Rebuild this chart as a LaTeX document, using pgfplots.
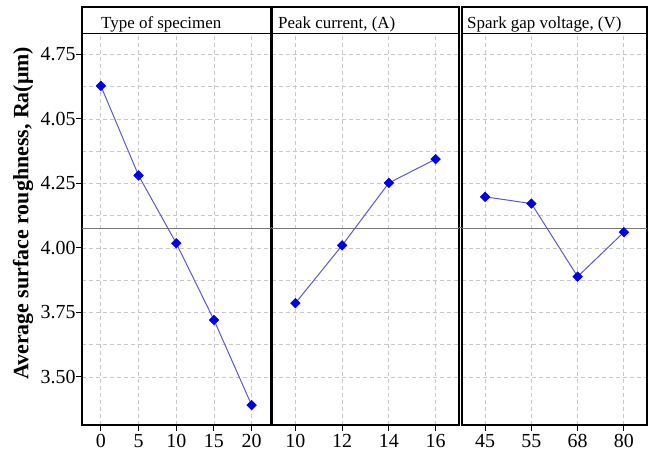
\documentclass[border=0pt]{standalone}
\usepackage{fontspec}
\setmainfont{Liberation Serif}
\usepackage{pgfplots}
\pgfplotsset{compat=1.18}
\definecolor{lineblue}{RGB}{90,90,200}
\definecolor{markblue}{RGB}{0,0,235}
\definecolor{gridgray}{RGB}{200,200,200}
\definecolor{meangray}{RGB}{120,120,120}

\pgfplotsset{
  panel/.style={
    scale only axis, anchor=south west, height=391.5bp,
    ymin=3.314, ymax=4.831,
    ytick={3.5,3.75,4,4.25,4.5,4.75},
    minor y tick num=1,
    grid=both,
    major grid style={gridgray, dash pattern=on 4bp off 3bp, line width=0.8bp},
    minor grid style={gridgray, dash pattern=on 4bp off 3bp, line width=0.8bp},
    axis line style={line width=1.5bp},
    tick style={black, line width=1bp},
    major tick length=6bp, minor tick length=0pt,
    tick align=outside,
    xtick pos=bottom, ytick pos=left,
    ticklabel style={font=\fontsize{20}{24}\selectfont},
    yticklabel style={xshift=3bp},
    /pgf/number format/assume math mode=true,
    clip=false,
  },
  data/.style={lineblue, line width=1bp, mark=square*, mark size=3.4bp,
    mark options={draw=markblue, fill=markblue, line width=0.5bp, rotate=45}},
  meanline/.style={meangray, line width=1.2bp, forget plot},
}

\begin{document}
\begin{tikzpicture}[x=1bp,y=1bp]
\path[use as bounding box] (0,0) rectangle (651,456);

% Panel 1
\begin{axis}[panel, at={(82bp,31bp)}, width=188.5bp,
  xmin=-2.5, xmax=22.5, xtick={0,5,10,15,20},
  yticklabels={3.50,3.75,4.00,4.25,4.05,4.75}]
\addplot[meanline] coordinates {(-2.5,4.076) (22.5,4.076)};
\addplot[data] coordinates {(0,4.628) (5,4.281) (10,4.018) (15,3.721) (20,3.391)};
\end{axis}

% Panel 2
\begin{axis}[panel, at={(272bp,31bp)}, width=187bp,
  xmin=9, xmax=17, xtick={10,12,14,16},
  yticklabels={}, ytick style={draw=none}]
\addplot[meanline] coordinates {(9,4.076) (17,4.076)};
\addplot[data] coordinates {(10,3.786) (12,4.010) (14,4.252) (16,4.344)};
\end{axis}

% Panel 3
\begin{axis}[panel, at={(462bp,31bp)}, width=185bp,
  xmin=-0.5, xmax=3.5, xtick={0,1,2,3}, xticklabels={45,55,68,80},
  yticklabels={}, ytick style={draw=none}]
\addplot[meanline] coordinates {(-0.5,4.076) (3.5,4.076)};
\addplot[data] coordinates {(0,4.198) (1,4.172) (2,3.889) (3,4.061)};
\end{axis}

% mean line through the gaps
\draw[meangray, line width=1.2bp] (270.5,228.3) -- (272,228.3);
\draw[meangray, line width=1.2bp] (459,228.3) -- (462,228.3);

% Header strips
\draw[line width=1.5bp] (82,422.5) rectangle (270.5,449);
\draw[line width=1.5bp] (272,422.5) rectangle (459,449);
\draw[line width=1.5bp] (462,422.5) rectangle (647,449);
\node[anchor=base west, inner sep=0pt, font=\fontsize{17}{20}\selectfont] at (101,427.7) {Type of specimen};
\node[anchor=base west, inner sep=0pt, font=\fontsize{17}{20}\selectfont] at (278,427.7) {Peak current, (A)};
\node[anchor=base west, inner sep=0pt, font=\fontsize{17}{20}\selectfont] at (467,427.7) {Spark gap voltage, (V)};

% Y label
\node[rotate=90, anchor=west, inner sep=0pt, font=\fontsize{22}{26}\selectfont\bfseries] at (23,76) {Average surface roughness, Ra(μm)};
\end{tikzpicture}
\end{document}
